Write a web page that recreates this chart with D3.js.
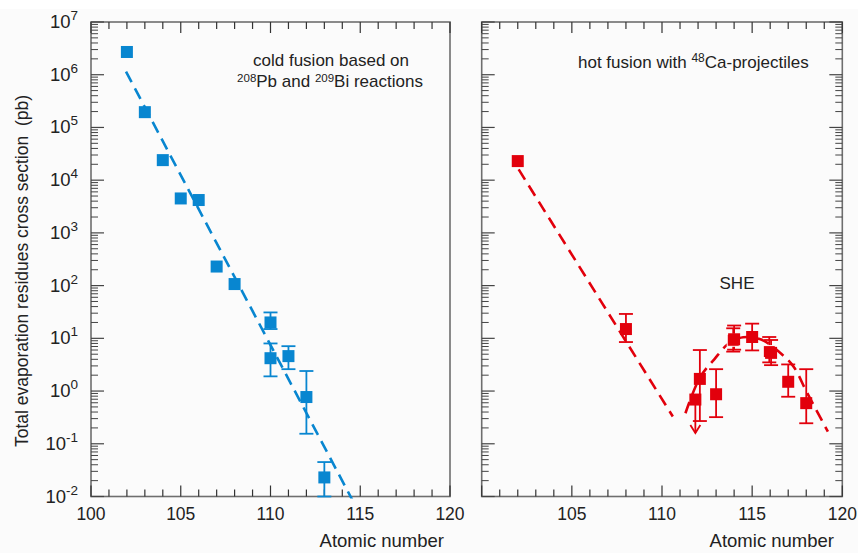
<!DOCTYPE html>
<html>
<head>
<meta charset="utf-8">
<script src="https://cdn.jsdelivr.net/npm/d3@7"></script>
<style>
  body { margin: 0; background: #fff; }
  svg { display: block; font-family: "Liberation Sans", Arial, sans-serif; }
</style>
</head>
<body>
<svg id="chart" width="858" height="553"></svg>
<script>
// cold fusion (left panel)
const coldZ      = [102, 103, 104, 105, 106, 107, 108, 110, 110, 111, 112, 113];
const coldSigma  = [2.7e6, 1.95e5, 2.4e4, 4.5e3, 4.2e3, 230, 107, 20, 4.2, 4.6, 0.77, 0.023];
const coldErrLo  = [null, null, null, null, null, null, null, 15, 1.9, 2.6, 0.155, 0.01];
const coldErrHi  = [null, null, null, null, null, null, null, 31, 8, 7.1, 2.4, 0.045];
const coldFitZ     = [101.95, 114.6];
const coldFitSigma = [1.15e6, 0.0081];

// hot fusion (right panel)
const hotZ      = [102, 108, 111.85, 112.1, 113, 113.95, 114, 115, 115.95, 116.05, 117, 118];
const hotSigma  = [2.3e4, 15, 0.69, 1.7, 0.87, 9.2, 9.6, 10.6, 5.6, 5.3, 1.5, 0.59];
const hotErrLo  = [null, 8.5, null, 0.27, 0.32, 5.6, 6.1, 5.9, 3.5, 3.1, 0.78, 0.245];
const hotErrHi  = [null, 29, null, 6.0, 2.6, 15.5, 17.5, 19, 10.6, 9.3, 3.2, 2.6];
const hotLimitIdx = 2, hotLimitTo = 0.16;   // upper limit arrow
const hotFitAZ     = [102.05, 110.6];
const hotFitASigma = [1.6e4, 0.33];
const hotFitBZ     = [111.3, 112.1, 112.9, 113.7, 114.5, 115.5, 116.5, 117.3, 118.0, 119.2];
const hotFitBSigma = [0.38, 1.8, 4.0, 8.0, 10.5, 9.5, 5.5, 2.9, 1.0, 0.17];

const xTicks = [100, 105, 110, 115, 120];
const decades = [-2, -1, 0, 1, 2, 3, 4, 5, 6, 7];

const blue = "#0886d0", red = "#e2000c", axisCol = "#6e6e6e";

const svg = d3.select("#chart");
svg.append("rect").attr("x", 0).attr("y", 9).attr("width", 858).attr("height", 544).attr("fill", "#fbfbfb");

const plotTop = 22, plotBottom = 496.5;

function drawPanel(p) {
  const x = d3.scaleLinear().domain([100, 120]).range([p.left, p.right]);
  const y = d3.scaleLog().domain([1e-2, 1e7]).range([plotBottom, plotTop]);
  const g = svg.append("g");

  // frame
  g.append("rect").attr("x", p.left).attr("y", plotTop)
    .attr("width", p.right - p.left).attr("height", plotBottom - plotTop)
    .attr("fill", "none").attr("stroke", axisCol).attr("stroke-width", 1.6);

  // x ticks bottom & top
  for (let z = 100; z <= 120; z++) {
    const major = z % 5 === 0;
    const len = major ? 11 : 7;
    g.append("line").attr("x1", x(z)).attr("x2", x(z)).attr("y1", plotBottom).attr("y2", plotBottom - len)
      .attr("stroke", "#333").attr("stroke-width", 1.2);
    g.append("line").attr("x1", x(z)).attr("x2", x(z)).attr("y1", plotTop).attr("y2", plotTop + len)
      .attr("stroke", "#333").attr("stroke-width", 1.2);
  }
  xTicks.filter(t => p.showX100 || t !== 100).forEach(t => {
    g.append("text").attr("x", x(t)).attr("y", 520).attr("text-anchor", "middle")
      .attr("font-size", 17.5).attr("fill", "#222").text(t);
  });

  // y ticks
  const sides = p.rightTicks ? [[p.left, 1], [p.right, -1]] : [[p.left, 1]];
  sides.forEach(([x0, dir]) => {
    decades.forEach(d => {
      g.append("line").attr("x1", x0).attr("x2", x0 + dir * 13).attr("y1", y(10 ** d)).attr("y2", y(10 ** d))
        .attr("stroke", "#444").attr("stroke-width", 1.2);
      if (d < 7) {
        for (let m = 2; m <= 9; m++) {
          const v = m * 10 ** d;
          g.append("line").attr("x1", x0).attr("x2", x0 + dir * 7).attr("y1", y(v)).attr("y2", y(v))
            .attr("stroke", "#444").attr("stroke-width", 1);
        }
      }
    });
  });
  if (p.yLabels) {
    decades.forEach(d => {
      const t = g.append("text").attr("x", 78).attr("y", y(10 ** d) + 6)
        .attr("text-anchor", "end").attr("font-size", 18.5).attr("fill", "#222");
      t.append("tspan").text("10");
      t.append("tspan").attr("dy", -8).attr("font-size", 13.5).text(d);
    });
  }

  // fit lines
  const clipId = "clip" + p.id;
  svg.append("clipPath").attr("id", clipId).append("rect")
    .attr("x", p.left).attr("y", plotTop).attr("width", p.right - p.left).attr("height", plotBottom - plotTop + 2);
  const lineGen = d3.line().x(d => x(d[0])).y(d => y(d[1]));
  p.fits.forEach(f => {
    g.append("path").attr("d", lineGen.curve(f.curve || d3.curveLinear)(d3.zip(f.z, f.s)))
      .attr("fill", "none").attr("stroke", p.color).attr("stroke-width", 2.6)
      .attr("stroke-dasharray", "12,7").attr("clip-path", `url(#${clipId})`);
  });

  // error bars
  const cap = 7;
  p.z.forEach((z, i) => {
    if (p.lo[i] == null) return;
    const cx = x(z);
    g.append("line").attr("x1", cx).attr("x2", cx).attr("y1", y(p.lo[i])).attr("y2", y(p.hi[i]))
      .attr("stroke", p.color).attr("stroke-width", 1.8);
    [p.lo[i], p.hi[i]].forEach(v => {
      g.append("line").attr("x1", cx - cap).attr("x2", cx + cap).attr("y1", y(v)).attr("y2", y(v))
        .attr("stroke", p.color).attr("stroke-width", 1.8);
    });
  });
  if (p.limit != null) {
    const cx = x(p.z[p.limit]), y0 = y(p.s[p.limit]), y1 = y(p.limitTo);
    g.append("line").attr("x1", cx).attr("x2", cx).attr("y1", y0).attr("y2", y1)
      .attr("stroke", p.color).attr("stroke-width", 1.8);
    g.append("path").attr("d", `M${cx - 5},${y1 - 8}L${cx},${y1}L${cx + 5},${y1 - 8}`)
      .attr("fill", "none").attr("stroke", p.color).attr("stroke-width", 1.8);
  }

  // markers
  const sz = 12;
  p.z.forEach((z, i) => {
    g.append("rect").attr("x", x(z) - sz / 2).attr("y", y(p.s[i]) - sz / 2)
      .attr("width", sz).attr("height", sz).attr("fill", p.color)
      .attr("stroke", p.outlined && p.outlined.includes(i) ? "#fff" : "none").attr("stroke-width", 1);
  });

  // x title
  g.append("text").attr("x", p.titleX).attr("y", 547).attr("text-anchor", "end")
    .attr("font-size", 18.5).attr("fill", "#222").text("Atomic number");
  return { x, y, g };
}

drawPanel({
  id: "L", left: 91, right: 450, color: blue, showX100: true, yLabels: true, rightTicks: false,
  z: coldZ, s: coldSigma, lo: coldErrLo, hi: coldErrHi,
  fits: [{ z: coldFitZ, s: coldFitSigma }], titleX: 444
});

drawPanel({
  id: "R", left: 481.7, right: 842.3, color: red, showX100: false, yLabels: false, rightTicks: true,
  z: hotZ, s: hotSigma, lo: hotErrLo, hi: hotErrHi, limit: hotLimitIdx, limitTo: hotLimitTo,
  outlined: [5, 8],
  fits: [{ z: hotFitAZ, s: hotFitASigma }, { z: hotFitBZ, s: hotFitBSigma, curve: d3.curveCatmullRom }],
  titleX: 834
});

// annotations
svg.append("text").attr("x", 331).attr("y", 66).attr("text-anchor", "middle")
  .attr("font-size", 17).attr("fill", "#222").text("cold fusion based on");
const ann2 = svg.append("text").attr("x", 330).attr("y", 87).attr("text-anchor", "middle")
  .attr("font-size", 17).attr("fill", "#222");
ann2.append("tspan").attr("font-size", 11.5).attr("dy", -5).text("208");
ann2.append("tspan").attr("dy", 5).text("Pb and ");
ann2.append("tspan").attr("font-size", 11.5).attr("dy", -5).text("209");
ann2.append("tspan").attr("dy", 5).text("Bi reactions");

const ann3 = svg.append("text").attr("x", 578).attr("y", 68)
  .attr("font-size", 17).attr("fill", "#222");
ann3.append("tspan").text("hot fusion with ");
ann3.append("tspan").attr("font-size", 12).attr("dy", -6).text("48");
ann3.append("tspan").attr("dy", 6).text("Ca-projectiles");

svg.append("text").attr("x", 737).attr("y", 289).attr("text-anchor", "middle")
  .attr("font-size", 17).attr("fill", "#222").text("SHE");

// y title
svg.append("text").attr("transform", "translate(28,271) rotate(-90)").attr("text-anchor", "middle")
  .attr("font-size", 17.5).attr("fill", "#222").attr("xml:space", "preserve")
  .text("Total evaporation residues cross section  (pb)");
</script>
</body>
</html>
